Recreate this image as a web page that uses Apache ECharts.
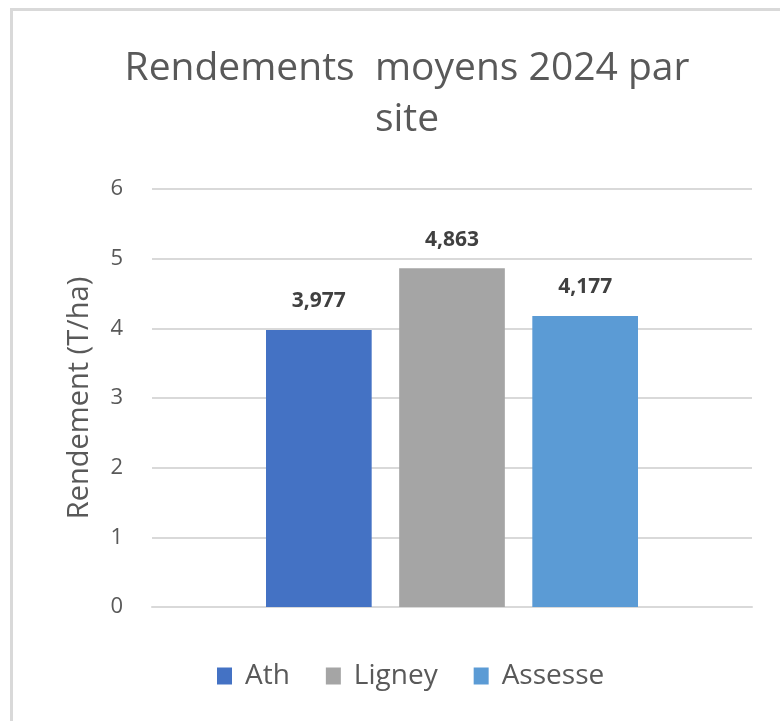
<!DOCTYPE html>
<html>
<head>
<meta charset="utf-8">
<script src="https://cdn.jsdelivr.net/npm/echarts@6/dist/echarts.min.js"></script>
<style>
  html, body { margin: 0; padding: 0; background: #fff; }
  #frame { position: absolute; left: 10px; top: 8px; width: 780px; height: 730px; border: 3px solid #d9d9d9; box-sizing: border-box; }
  #chart { position: absolute; left: 0; top: 0; width: 780px; height: 721px; }
</style>
</head>
<body>
<div id="frame"></div>
<div id="chart"></div>
<script>
var sites = ["Ath", "Ligney", "Assesse"];
var rendements = [3.977, 4.863, 4.177];
var colors = ["#4472C4", "#A5A5A5", "#5B9BD5"];
var yTicks = [0, 1, 2, 3, 4, 5, 6];

var chart = echarts.init(document.getElementById('chart'));

// one series per site so each gets a legend entry
var series = sites.map(function (name, i) {
    return {
        name: name,
        type: 'bar',
        data: [rendements[i]],
        itemStyle: { color: colors[i] },
        barGap: '26%',
        barCategoryGap: '38%',
        label: {
            show: true,
            position: 'top',
            distance: 18,
            fontSize: 21,
            fontWeight: 'bold',
            color: '#404040',
            fontFamily: 'Open Sans',
            formatter: function (p) { return p.value.toFixed(3).replace('.', ','); }
        }
    };
});

var option = {
    animation: false,
    textStyle: { fontFamily: 'Open Sans' },
    title: {
        text: 'Rendements  moyens 2024 par\nsite',
        left: 402,
        textAlign: 'center',
        top: 38,
        textStyle: { fontSize: 39, fontWeight: 'normal', color: '#595959', lineHeight: 51, fontFamily: 'Open Sans' }
    },
    legend: {
        data: sites,
        top: 657,
        left: 212,
        itemWidth: 15,
        itemHeight: 17,
        itemGap: 36,
        icon: 'rect',
        textStyle: { fontSize: 28, color: '#595959', fontFamily: 'Open Sans', padding: [0, 0, 0, 8] }
    },
    grid: { left: 152, right: 28, top: 189, bottom: 114 },
    xAxis: {
        type: 'category',
        data: [''],
        axisLine: { lineStyle: { color: '#d9d9d9', width: 2 } },
        axisTick: { show: false },
        axisLabel: { show: false }
    },
    yAxis: {
        type: 'value',
        min: yTicks[0],
        max: yTicks[yTicks.length - 1],
        interval: 1,
        name: 'Rendement (T/ha)',
        nameLocation: 'middle',
        nameGap: 58,
        nameTextStyle: { fontSize: 29, color: '#595959', fontFamily: 'Open Sans' },
        axisLine: { show: false },
        axisTick: { show: false },
        axisLabel: { fontSize: 22, color: '#595959', margin: 29 },
        splitLine: { lineStyle: { color: '#d9d9d9', width: 2 } }
    },
    series: series
};

chart.setOption(option);
</script>
</body>
</html>
